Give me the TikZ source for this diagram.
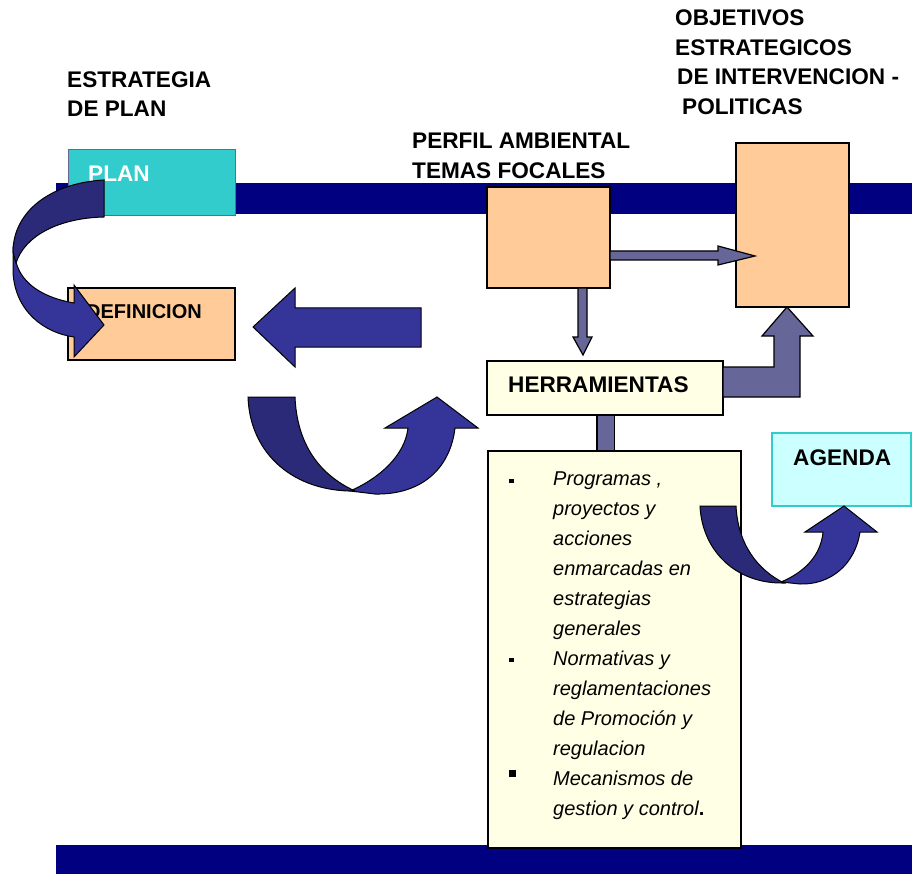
\documentclass[tikz,border=0pt]{standalone}
\usepackage{fontspec}
\setmainfont{Liberation Sans}
\usetikzlibrary{calc}
\definecolor{navy}{HTML}{000080}
\definecolor{arrowblue}{HTML}{343499}
\definecolor{arrowdark}{HTML}{2A2A78}
\definecolor{slate}{HTML}{666699}
\definecolor{peach}{HTML}{FFCC99}
\definecolor{tealc}{HTML}{33CCCC}
\definecolor{cream}{HTML}{FFFFE5}
\definecolor{paleaqua}{HTML}{CCFFFF}
\begin{document}
\begin{tikzpicture}[x=1pt,y=-1pt,
  box/.style={draw=black, line width=1.3pt, inner sep=0pt, outer sep=0pt, anchor=north west},
  lbl/.style={inner sep=0pt, anchor=base west, font=\fontsize{22.6}{26}\selectfont\bfseries},
  itemtxt/.style={inner sep=0pt, anchor=base west, font=\fontsize{20}{24}\selectfont\itshape},
  blk/.style={fill=arrowblue, draw=black, line width=1pt, line join=miter},
  blkdark/.style={fill=arrowdark, draw=black, line width=1pt},
  slatearr/.style={fill=slate, draw=black, line width=1.2pt, line join=miter}]
\useasboundingbox (0,0) rectangle (912,874);
% bands
\fill[navy] (56,183) rectangle (912,214);
\fill[navy] (56,845) rectangle (912,874);
% boxes
\node[box, draw=slate, line width=1pt, fill=tealc, minimum width=167pt, minimum height=66pt] (plan) at (68,150) {};
\node[box, fill=peach, minimum width=167pt, minimum height=72pt] (defin) at (68,288) {};
\node[box, fill=peach, minimum width=123pt, minimum height=101pt] (perfil) at (487,187) {};
\node[box, fill=peach, minimum width=113pt, minimum height=164pt] (objetivos) at (736,143) {};
\node[box, fill=cream, minimum width=236pt, minimum height=54pt] (herr) at (487,361) {};
\node[box, fill=cream, minimum width=253pt, minimum height=397pt] (list) at (488,451) {};
\node[box, draw=tealc, line width=1.2pt, fill=paleaqua, minimum width=139pt, minimum height=73pt] (agenda) at (772,433) {};
% titles
\node[lbl] (t1) at (67,88) {ESTRATEGIA};
\node[lbl] (t2) at (67,117) {DE PLAN};
\node[lbl] (t3) at (412,149) {PERFIL AMBIENTAL};
\node[lbl] (t4) at (412,179) {TEMAS FOCALES};
\node[lbl] (t5) at (675,26) {OBJETIVOS};
\node[lbl] (t6) at (675,56) {ESTRATEGICOS};
\node[lbl] (t7) at (677,85) {DE INTERVENCION -};
\node[lbl] (t8) at (682,115) {POLITICAS};
\node[lbl, text=white] (plantxt) at (88,182) {PLAN};
\node[lbl, font=\fontsize{20}{24}\selectfont\bfseries] (defintxt) at (86,318) {DEFINICION};
\node[lbl] (herrtxt) at (508,392) {HERRAMIENTAS};
\node[lbl] (agendatxt) at (793,465) {AGENDA};
% list
\foreach \t [count=\i from 0] in {{Programas ,},{proyectos y},{acciones},{enmarcadas en},{estrategias},{generales},{Normativas y},{reglamentaciones},{de Promoci\'on y},{regulacion},{Mecanismos de},{gestion y control{\upshape\bfseries .}}}
  \node[itemtxt] (li\i) at (553,485+30*\i) {\t};
\fill[black] (509,478.5) rectangle (513.5,483);
\fill[black] (509,657.5) rectangle (513.5,662);
\fill[black] (509,770) rectangle (516,777);
% slate connectors
\draw[slatearr] ($(perfil.east)+(0,13.5)$) -- ++(108,0) -- ++(0,-5) -- ++(37,10) -- ++(-37,9) -- ++(0,-5) -- ++(-108,0) -- cycle;
\draw[slatearr] ($(perfil.south)+(29.5,0)$) -- ++(0,49) -- ++(-5,0) -- ++(10,18) -- ++(9,-18) -- ++(-5,0) -- ++(0,-49) -- cycle;
\draw[slatearr] ($(herr.east)+(0,-21)$) -- ++(51,0) -- ++(0,-31) -- ++(-12,0) -- ++(25,-29) -- ++(26,29) -- ++(-13,0) -- ++(0,61) -- ++(-77,0) -- cycle;
\draw[slatearr] ($(herr.south)+(-8,0)$) rectangle (list.north);
% left block arrow
\draw[blk] (253,327) -- (295,288) -- (295,308) -- (421,308) -- (421,347) -- (295,347) -- (295,367) -- cycle;
% curved arrow PLAN -> DEFINICION
\draw[blk] (13,250) -- (13,272) .. controls (15,312) and (45,333) .. (74,337) -- (74,357) -- (104,325) -- (74,285) -- (74,303) .. controls (45,298) and (22,285) .. (16,262) -- cycle;
\draw[blkdark] (104,180) .. controls (50,183) and (13,212) .. (13,252) -- (16,263) .. controls (25,235) and (60,218) .. (104,217) -- cycle;
% U-turn arrow middle
\draw[blk] (350,491) .. controls (380,478) and (405,455) .. (408,428) -- (385,428) -- (437,397) -- (478,428) -- (455,428) .. controls (450,470) and (420,495) .. (375,494) -- cycle;
\draw[blkdark] (248,397) -- (295,397) .. controls (297,445) and (320,475) .. (355,491) .. controls (295,492) and (250,455) .. (248,397) -- cycle;
% U-turn arrow agenda
\draw[blk] (781,582) .. controls (805,572) and (821,555) .. (823,532) -- (805,532) -- (844,506) -- (877,532) -- (860,532) .. controls (855,565) and (830,585) .. (800,584) -- cycle;
\draw[blkdark] (700,506) -- (736,506) .. controls (738,545) and (758,570) .. (784,583) .. controls (735,584) and (702,550) .. (700,506) -- cycle;
\end{tikzpicture}
\end{document}
